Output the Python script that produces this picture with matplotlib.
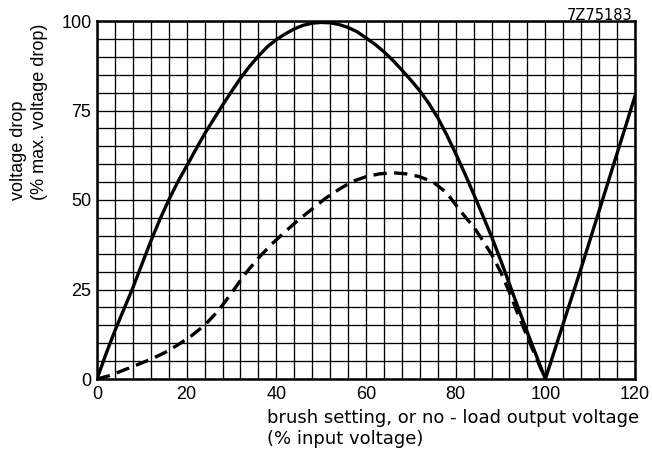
import matplotlib
matplotlib.use("Agg")
import matplotlib.pyplot as plt
import numpy as np

# solid curve: voltage drop vs brush setting
solid_x = [0, 2, 4, 6, 8, 10, 12, 14, 16, 18, 20, 22, 24, 26, 28, 30, 32, 34, 36, 38,
           40, 42, 44, 46, 48, 50, 52, 54, 56, 58, 60, 62, 64, 66, 68, 70, 72, 74, 76,
           78, 80, 82, 84, 86, 88, 90, 92, 94, 96, 98, 100, 104, 108, 112, 116, 120]
solid_y = [0, 7, 13.5, 19.5, 25.5, 32, 38.5, 44.5, 50, 55, 59.5, 64, 68.5, 72.5, 76.5,
           80.3, 84, 87.3, 90.2, 92.8, 94.8, 96.4, 97.8, 98.8, 99.4, 99.6, 99.5, 99,
           98.2, 97, 95.3, 93.5, 91.4, 89, 86.3, 83.5, 80.5, 77, 73, 68.2, 63, 57.5, 51.7,
           45.8, 39.8, 33.3, 26.5, 19.7, 13, 6.5, 0, 15.5, 31, 47, 63, 79]

# dashed curve
dash_x = [0, 3, 6, 9, 12, 15, 18, 21, 24, 27, 30, 33, 36, 39, 42, 45, 48, 51, 54, 57,
          60, 63, 66, 69, 72, 75, 78, 81, 84, 86, 88, 90, 92, 94, 96, 98, 100]
dash_y = [0, 1, 2.5, 4, 5.5, 7.3, 9.5, 12, 15, 19, 24, 29.3, 33.8, 37.7, 41.2, 44.5,
          47.5, 50.5, 53, 55.2, 56.5, 57.3, 57.6, 57.3, 56.5, 55, 52, 47, 42.5, 38.8,
          34.8, 30, 24.2, 17.8, 11.7, 5.8, 0]

xticks = [0, 20, 40, 60, 80, 100, 120]
yticks = [0, 25, 50, 75, 100]

plt.rcParams['font.family'] = ['Liberation Sans', 'DejaVu Sans']

fig = plt.figure(figsize=(6.52, 4.51), dpi=100)
ax = fig.add_axes([97/652, 1-379/451, 538/652, 358/451])

ax.set_xlim(0, 120)
ax.set_ylim(0, 100)

# fine grid
for gx in np.arange(0, 121, 4):
    ax.axvline(gx, color='black', lw=0.95, zorder=1)
for gy in np.arange(0, 101, 5):
    ax.axhline(gy, color='black', lw=0.95, zorder=1)

ax.plot(solid_x, solid_y, color='black', lw=2.4, zorder=3, solid_joinstyle='round')
ax.plot(dash_x, dash_y, color='black', lw=2.4, zorder=3, dashes=(4, 2.2))

ax.set_xticks(xticks)
ax.set_yticks(yticks)
ax.tick_params(length=0, labelsize=13)
ax.tick_params(axis='x', pad=5)
ax.tick_params(axis='y', pad=4)
for s in ax.spines.values():
    s.set_linewidth(1.8)

fig.text(267/652, 1-409/451, "brush setting, or no - load output voltage\n(% input voltage)",
         ha='left', va='top', fontsize=13, linespacing=1.2, family='DejaVu Sans')
fig.text(29/652, 1-200/451, "voltage drop\n(% max. voltage drop)", rotation=90,
         ha='center', va='bottom', multialignment='left', fontsize=13, linespacing=1.3)
fig.text(632/652, 1-15/451, "7Z75183", ha='right', va='center', fontsize=10.5,
         family='DejaVu Sans')

fig.savefig("out.png", dpi=100)
